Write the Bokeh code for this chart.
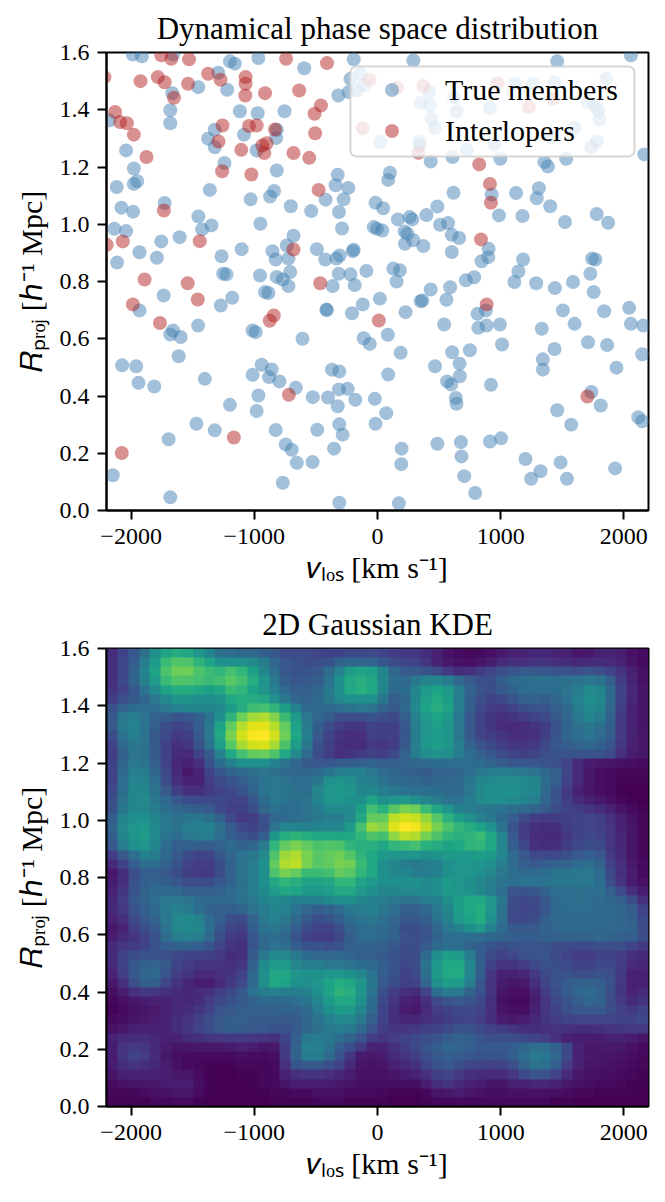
from bokeh.plotting import figure
from bokeh.layouts import column
from bokeh.models import Range1d, FixedTicker, Legend, LegendItem, BoxAnnotation
from bokeh.palettes import Viridis256
from bokeh.embed import file_html
from bokeh.resources import INLINE
import numpy as np

SERIF = "Liberation Serif"

member_v = [-1986,-1913,-1660,-1198,-1158,-967,-193,-595,-1293,-1456,-1220,-1666,-1682,-1682,-1117,-973,-755,-318,-2176,-1321,-1375,-1321,-1084,-818,-823,-981,-2041,-1242,-1978,-1978,-1951,-2117,-818,-323,-340,-237,-1361,-840,-872,-1030,-421,-275,-704,-538,-313,-1728,-2079,-1984,-1454,-1348,-1424,-951,-2136,-2041,-288,-1606,-1755,-682,-736,-1932,-1791,-1103,-853,-826,-723,-492,-424,-334,-307,-201,-193,-1266,-2114,-709,-1253,-1226,-954,-818,-315,-220,-90,
    -139,-220,-234,-166,-112,24,418,351,427,622,641,440,465,342,342,725,913,948,1117,1261,1437,1858,1709,1763,1791,1804,1600,1736,1782,1410,
    291,1459,2057,432,609,997,1356,1383,1532,2166,101,87,617,1125,1310,1293,1402,927,986,1177,1522,1780,1872,-16,46,486,397,166,261,283,-30,-3,38,508,573,220,242,291,223,372,603,663,603,902,899,845,1182,1144,1742,1769,1728,128,182,
    -1736,-1932,-1272,-1179,-1456,-1660,-1682,-1598,-1614,-2073,-1959,-1940,-1812,-1402,-1198,-1470,-1321,-1696,-2149,-1682,-1014,-989,-913,-886,-769,-723,-364,-185,-416,-410,-207,-120,-609,-112,-63,-940,-859,-1014,-880,-796,-663,-967,-981,-370,-310,-525,-402,-313,-242,-180,-323,-826,-489,-310,-283,-745,-696,-655,-527,-353,-769,-310,
    155,19,228,351,364,432,590,560,717,785,1111,1288,1440,1587,1755,84,188,87,541,812,880,818,886,994,1011,1505,1600,1334,1840,2043,2057,2157,1709,1864,2149,1437,1342,1342,1940,750,606,467,666,668,565,598,921,636,641,-22,71,-16,1736,1812,1459,1573,2117,2149,196,193,486,677,682,913,1003,704,793,174,1201,1323,1247,1486,1538,1929]
member_r = [1.593,1.587,1.593,1.569,1.561,1.581,1.576,1.545,1.529,1.479,1.470,1.458,1.398,1.353,1.395,1.388,1.395,1.450,1.363,1.330,1.299,1.269,1.313,1.330,1.301,1.258,1.258,1.214,1.195,1.141,1.150,1.130,1.188,1.173,1.136,1.127,1.120,1.116,1.097,1.087,1.086,1.087,1.063,1.046,1.043,1.074,1.058,1.044,1.027,0.996,0.982,1.002,0.984,0.976,0.985,0.955,0.940,0.960,0.926,0.902,0.883,0.913,0.906,0.877,0.880,0.913,0.877,0.880,0.891,0.906,0.911,0.888,0.866,0.833,0.827,0.825,0.821,0.816,0.827,0.825,0.837,
    1.526,1.508,1.462,1.467,1.485,1.287,1.462,1.424,1.415,1.444,1.394,1.368,1.336,1.287,1.275,1.260,1.406,1.281,1.491,1.491,1.496,1.508,1.427,1.415,1.398,1.366,1.337,1.269,1.289,1.304,
    1.572,1.569,1.590,1.219,1.235,1.229,1.217,1.202,1.229,1.244,1.180,1.155,1.110,1.109,1.126,1.091,1.063,1.104,1.031,1.029,1.008,1.036,1.005,1.075,1.056,1.062,1.032,1.017,1.025,1.017,0.990,0.984,0.978,0.998,1.004,0.975,0.967,0.944,0.932,0.924,0.963,0.952,0.903,0.914,0.885,0.871,0.877,0.835,0.880,0.877,0.827,0.845,0.839,
    0.751,0.699,0.716,0.743,0.646,0.629,0.615,0.606,0.539,0.507,0.504,0.446,0.433,0.460,0.369,0.303,0.280,0.249,0.123,0.046,0.629,0.623,0.763,0.760,0.807,0.784,0.784,0.788,0.701,0.701,0.689,0.720,0.600,0.602,0.582,0.509,0.493,0.474,0.466,0.451,0.429,0.402,0.348,0.492,0.486,0.396,0.395,0.423,0.425,0.387,0.364,0.281,0.282,0.301,0.265,0.231,0.212,0.167,0.169,0.216,0.097,0.027,
    0.800,0.740,0.693,0.731,0.734,0.772,0.780,0.736,0.804,0.815,0.798,0.794,0.777,0.798,0.763,0.614,0.551,0.475,0.650,0.687,0.699,0.638,0.646,0.650,0.580,0.699,0.652,0.635,0.696,0.708,0.652,0.646,0.588,0.578,0.546,0.564,0.528,0.492,0.499,0.560,0.553,0.504,0.513,0.469,0.451,0.440,0.439,0.393,0.373,0.390,0.340,0.303,0.414,0.367,0.350,0.300,0.326,0.312,0.216,0.162,0.233,0.239,0.189,0.241,0.252,0.120,0.061,0.025,0.180,0.137,0.111,0.168,0.111,0.147]

interloper_v = [-1755,-1674,-1530,-742,-410,-2217,-1924,-1783,-1728,-1538,-1375,-1274,-1071,-1071,-1073,-913,-636,-1652,-459,-511,-2130,-2090,-2035,-1978,-1258,-1043,-981,-832,-506,-1291,-900,-935,-919,-1106,-682,-554,-1875,-1261,-1024,-478,-1734,-1443,-2068,-2198,-682,
    -62,-120,160,372,975,1228,1424,332,826,913,921,840,
    -1891,-1541,-1986,-1459,-1766,-842,-875,-465,11,-720,-1166,-2076,886,1704]
interloper_r = [1.590,1.578,1.576,1.578,1.563,1.514,1.500,1.514,1.496,1.491,1.526,1.505,1.514,1.491,1.450,1.458,1.467,1.442,1.415,1.386,1.392,1.357,1.353,1.313,1.345,1.343,1.345,1.331,1.318,1.289,1.283,1.275,1.249,1.260,1.249,1.232,1.235,1.185,1.174,1.120,1.048,0.941,0.940,0.928,0.912,
    1.505,1.335,1.477,1.483,1.493,1.409,1.438,1.250,1.209,1.141,1.075,0.947,
    0.807,0.794,0.720,0.737,0.655,0.681,0.663,0.794,0.664,0.404,0.255,0.201,0.720,0.398]

v_ticks = [-2000, -1000, 0, 1000, 2000]
v_labels = ["\u22122000", "\u22121000", "0", "1000", "2000"]
r_ticks = [0.0, 0.2, 0.4, 0.6, 0.8, 1.0, 1.2, 1.4, 1.6]
r_labels = ["0.0", "0.2", "0.4", "0.6", "0.8", "1.0", "1.2", "1.4", "1.6"]
x_label = "\U0001d463\u2097\u2092\u209b [km s\u207b\u00b9]"
y_label = "\U0001d445\u209a\u1d63\u2092\u2c7c [\u210e\u207b\u00b9 Mpc]"

# KDE cells, top row first, 0-100 along the colormap
density_rows = [
[13,20,27,37,50,58,62,60,52,45, 37,35,33,33,30,28,23,23,23,21, 20,20,22,22,23, 20,18,17,16,13, 9,5,3,2,3, 4,7,9,10,11, 11,10,9,6,7, 10,10,8,5,3],
[14,22,30,42,55,68,73,72,65,58, 50,50,50,48,42,33,27,25,24,24, 25,32,33,33,32, 27,23,21,20,16, 10,7,5,4,6, 8,12,14,14,15, 15,14,13,11,12, 13,12,10,6,3],
[14,22,32,45,58,72,78,78,72,68, 66,70,66,57,46,36,28,26,26,28, 35,44,55,58,56, 45,33,29,28,26, 23,17,13,14,17, 21,24,26,28,28, 27,26,25,24,26, 24,20,15,9,5],
[14,22,32,44,55,68,73,72,70,68, 70,74,70,62,52,40,30,27,28,30, 38,50,60,63,60, 46,36,34,40,45, 46,42,34,28,24, 24,30,34,36,37, 37,36,37,38,40, 38,30,18,10,5],
[15,20,27,38,48,58,62,62,60,56, 60,68,66,58,52,44,35,30,30,33, 40,50,60,63,60, 46,34,36,46,54, 58,54,42,32,26, 24,28,32,35,36, 35,36,38,42,48, 45,34,20,11,6],
[18,24,28,33,40,48,52,52,50,50, 52,60,62,62,60,50,40,33,32,35, 40,48,50,50,50, 40,30,33,46,56, 61,56,42,30,24, 20,22,27,31,32, 30,33,38,44,50, 47,34,20,11,6],
[25,32,36,36,36,40,44,46,46,46, 48,55,62,69,70,65,56,44,34,34, 34,36,38,40,38, 32,28,34,48,58, 63,58,42,30,22, 18,17,20,24,26, 26,30,34,42,48, 45,33,19,10,6],
[28,40,43,38,32,30,26,27,31,38, 50,65,78,86,88,81,68,54,40,33, 29,24,24,24,26, 24,22,30,44,54, 58,54,40,27,20, 16,14,15,18,20, 22,28,33,40,46, 42,31,17,9,6],
[28,42,45,38,30,24,20,22,30,40, 58,76,89,95,96,89,76,58,42,30, 24,18,16,16,20, 19,19,27,42,52, 56,52,40,27,20, 16,12,12,13,15, 18,25,32,37,40, 37,30,17,10,6],
[24,38,43,38,28,22,17,19,28,40, 60,80,93,99,100,93,78,60,43,28, 20,15,13,14,19, 18,19,27,42,52, 55,52,40,28,21, 18,15,13,13,14, 19,26,33,36,38, 35,29,17,10,7],
[20,34,40,38,29,20,14,16,26,38, 56,74,87,93,94,87,72,55,40,25, 19,14,13,13,17, 16,18,28,43,53, 56,53,42,32,26, 22,18,16,16,17, 22,27,30,32,33, 31,26,16,9,7],
[18,31,38,37,29,20,13,12,20,28, 44,60,70,76,77,72,60,47,35,24, 18,14,15,17,19, 18,22,32,42,49, 51,49,42,36,31, 27,23,20,19,21, 24,25,26,26,26, 25,22,14,8,7],
[20,33,40,38,30,20,11,9,14,26, 36,44,50,51,50,45,38,33,29,27, 27,29,30,31,32, 30,30,32,33,35, 36,36,36,36,35, 32,29,27,27,27, 26,24,20,12,8, 7,6,5,4,3],
[20,35,43,42,33,22,12,7,10,20, 27,32,35,37,38,37,35,33,33,35, 39,42,44,44,40, 35,33,31,30,29, 32,32,33,36,40, 42,43,42,40,38, 33,30,21,12,7, 4,3,2,2,2],
[20,36,45,44,36,24,14,9,10,18, 23,26,29,34,38,40,38,36,36,40, 50,53,50,44,42, 38,35,34,33,32, 33,33,35,40,46, 48,49,49,48,46, 36,30,20,12,7, 4,3,1,1,1],
[22,37,46,46,38,28,18,14,14,17, 20,22,26,32,38,40,39,37,37,46, 52,54,52,46,46, 42,40,38,37,36, 36,34,34,40,47, 50,50,50,48,46, 34,26,17,10,6, 4,3,1,0,0],
[24,38,46,47,40,34,27,24,22,22, 22,20,20,27,35,40,38,37,38,45, 52,52,50,50,58, 50,52,54,50,46, 42,38,38,42,47, 49,49,48,45,42, 33,25,18,13,9, 7,5,2,1,0],
[25,40,46,46,42,36,33,32,30,28, 22,19,19,24,33,37,36,36,38,42, 47,47,48,56,70, 64,74,80,78,68, 60,52,44,42,40, 39,38,36,34,32, 28,24,20,18,15, 13,10,6,3,1],
[30,45,50,50,46,40,37,39,40,37, 31,22,17,18,25,33,34,36,38,40, 42,42,48,60,76, 76,90,93,92,84, 74,64,56,50,44, 40,34,30,23,18, 17,18,19,20,21, 19,14,9,5,2],
[32,47,52,54,48,40,38,42,44,44, 37,29,22,20,24,38,45,45,44,45, 46,46,54,70,85, 82,95,100,98,90, 80,72,66,62,58, 50,38,26,18,14, 13,14,18,20,21, 19,15,10,6,2],
[30,45,52,55,48,38,36,40,42,42, 36,30,26,24,30,53,62,65,62,60, 60,59,60,66,72, 70,83,90,88,79, 72,66,64,65,68, 60,46,28,18,13, 12,12,16,20,22, 20,15,11,6,2],
[27,42,50,52,46,36,30,31,30,29, 32,35,32,33,42,66,76,80,76,72, 73,72,66,63,63, 60,66,68,70,64, 62,58,60,65,66, 60,46,30,22,14, 13,14,18,22,24, 22,15,11,6,2],
[18,28,36,44,42,34,28,24,20,21, 28,33,38,40,48,72,85,88,80,74, 76,78,73,65,60, 54,52,52,52,50, 52,54,54,54,56, 54,46,35,28,22, 22,22,24,28,30, 27,17,12,6,2],
[12,20,30,36,36,32,26,20,18,18, 24,32,38,42,50,76,88,90,80,74, 76,80,78,68,60, 50,46,42,40,42, 44,50,52,52,52, 50,42,35,30,28, 30,31,32,35,36, 32,20,14,7,3],
[7,13,24,30,30,28,24,19,17,17, 24,31,38,42,50,72,80,76,68,68, 70,76,74,66,60, 50,46,46,42,42, 44,50,52,52,50, 46,40,36,35,35, 36,38,39,40,40, 35,22,14,8,3],
[8,14,25,30,32,30,27,24,24,24, 27,31,37,42,50,60,66,63,58,58, 60,66,66,58,54, 50,50,50,50,48, 50,54,52,50,46, 42,38,36,38,38, 38,40,40,40,40, 36,24,15,8,5],
[10,16,26,32,35,35,33,30,30,30, 32,35,38,42,48,55,60,58,54,54, 56,60,60,54,50, 46,46,48,48,48, 50,54,52,50,46, 42,36,26,26,28, 32,36,36,37,36, 36,30,22,14,8],
[11,18,27,32,36,40,40,38,35,35, 34,35,37,40,45,48,46,43,44,44, 48,50,50,46,44, 42,40,38,38,42, 44,50,56,60,60, 52,40,24,22,23, 28,35,36,37,36, 35,33,30,24,14],
[11,17,25,30,35,41,44,42,36,32, 30,30,32,38,42,46,44,38,33,30, 32,35,40,42,44, 40,36,30,30,33, 40,46,56,60,62, 52,38,23,21,22, 27,34,36,36,36, 35,34,33,30,20],
[9,14,22,28,32,40,47,47,44,35, 30,24,23,32,40,44,40,34,28,24, 26,30,36,38,40, 37,33,28,28,30, 38,44,54,58,62, 50,37,22,22,24, 30,34,35,35,35, 35,34,33,31,22],
[7,10,19,24,28,38,46,48,46,36, 27,21,19,30,38,40,36,30,24,20, 20,24,32,36,37, 35,32,24,24,26, 33,40,44,50,54, 44,35,28,28,28, 32,33,34,34,34, 34,33,33,32,23],
[8,12,15,20,26,36,42,44,42,34, 24,17,16,27,34,36,34,26,20,18, 18,22,30,35,36, 34,31,25,24,26, 32,36,36,36,35, 34,32,30,30,30, 31,31,32,32,32, 33,32,31,30,24],
[12,16,18,20,25,30,31,32,30,26, 20,15,14,26,34,38,36,30,26,26, 24,26,30,32,32, 30,28,24,24,28, 34,36,36,32,30, 26,24,25,26,26, 26,24,23,22,22, 24,24,24,20,17],
[13,20,24,25,25,24,22,21,20,19, 17,13,14,29,40,48,46,40,35,33, 33,34,32,30,30, 28,25,23,24,34, 50,56,54,42,30, 23,20,22,25,26, 26,23,20,18,18, 20,20,18,14,12],
[12,20,27,31,32,28,21,18,15,15, 15,14,16,31,48,55,55,46,42,42, 40,40,38,36,34, 30,26,22,24,38, 53,60,60,46,31, 20,15,15,18,22, 25,24,22,20,20, 22,22,18,12,11],
[10,18,28,33,34,26,18,15,12,12, 14,15,20,34,50,60,60,52,50,50, 52,52,50,46,38, 30,25,20,22,36, 54,61,61,46,30, 16,9,9,11,17, 23,25,25,24,24, 25,24,17,9,9],
[7,14,24,31,30,21,15,11,8,8, 12,17,22,35,50,60,58,50,50,52, 58,62,60,52,40, 28,24,19,20,33, 50,56,54,42,27, 15,8,6,7,14, 21,25,29,31,32, 30,25,16,9,9],
[4,8,14,17,16,14,12,11,12,14, 18,22,28,38,42,44,42,42,44,50, 58,65,63,52,38, 24,18,14,12,20, 36,42,40,32,25, 15,6,4,4,10, 18,24,29,33,35, 32,24,16,10,12],
[2,4,7,8,9,10,11,11,13,18, 22,25,28,32,34,34,34,37,39,46, 54,60,60,50,36, 22,15,9,8,14, 22,26,28,26,22, 14,5,3,3,8, 16,22,25,30,33, 31,24,17,12,15],
[1,3,5,6,7,9,11,13,16,20, 26,28,30,30,30,32,32,32,34,42, 50,55,54,45,34, 20,14,8,7,12, 18,20,22,22,20, 14,6,4,4,9, 16,20,24,27,28, 28,24,19,17,20],
[3,4,6,7,8,10,13,15,19,24, 28,30,30,29,29,29,28,29,33,38, 44,48,47,40,30, 20,14,11,11,14, 16,18,20,21,18, 13,8,7,8,11, 15,18,20,21,21, 21,21,20,20,22],
[5,7,9,9,9,10,13,16,20,24, 28,30,29,28,27,25,25,28,33,37, 40,42,40,34,26, 18,16,16,17,19, 20,22,26,26,22, 20,18,16,14,13, 14,15,14,13,13, 14,15,16,17,16],
[9,12,13,13,11,9,10,13,14,15, 16,17,17,16,15,14,20,30,40,42, 40,36,32,26,18, 16,18,20,22,24, 26,30,32,30,26, 24,24,24,22,20, 18,14,9,8,8, 8,9,9,8,6],
[8,15,17,16,12,8,6,6,7,7, 7,8,9,8,6,7,18,32,44,44, 38,30,24,17,10, 10,14,18,22,26, 30,33,32,30,27, 28,28,30,33,36, 36,31,22,10,7, 7,7,7,5,3],
[8,16,20,18,12,7,4,3,3,3, 3,3,4,3,3,4,17,32,42,42, 35,25,16,8,7, 8,12,15,19,24, 28,30,29,27,26, 26,26,30,36,40, 39,33,22,9,7, 6,6,5,4,2],
[8,13,15,14,11,8,5,3,2,1, 1,1,2,2,2,3,14,26,28,28, 24,20,12,6,5, 6,9,11,14,20, 25,27,24,21,20, 19,20,24,32,38, 37,30,18,9,6, 6,5,4,3,2],
[6,9,10,10,9,8,7,6,3,1, 0,0,1,1,2,3,10,14,15,15, 14,11,8,5,5, 5,6,8,10,14, 19,21,17,14,13, 12,12,16,22,26, 25,20,12,7,5, 4,4,3,2,1],
[3,5,6,6,7,8,8,8,4,1, 0,0,0,1,2,3,6,8,8,8, 8,7,6,4,4, 4,4,4,4,8, 13,15,12,9,8, 6,6,9,10,11, 11,10,7,5,4, 3,3,2,1,1],
[2,2,2,3,4,5,6,6,3,1, 0,0,0,0,1,2,2,3,3,4, 4,4,3,3,3, 2,1,1,1,2, 6,7,8,6,5, 4,4,5,5,5, 5,4,3,2,2, 1,1,1,1,0],
[1,1,1,1,2,2,3,3,1,0, 0,0,0,0,0,1,1,1,1,2, 2,2,1,1,1, 1,0,0,0,1, 2,2,3,2,2, 2,2,2,2,2, 2,1,1,0,0, 0,0,0,0,0],
]


def base_figure(title, height, top):
    p = figure(height=height, width=664, frame_width=542, frame_height=458,
               x_range=Range1d(-2200, 2200), y_range=Range1d(0, 1.6),
               min_border_left=106, min_border_right=16, min_border_top=top, min_border_bottom=88,
               output_backend="svg", toolbar_location=None)
    p.title.text = title
    p.title.align = "center"
    p.title.text_font = SERIF
    p.title.text_font_size = "31px"
    p.title.text_font_style = "normal"
    p.title.text_color = "black"
    p.title.standoff = 13
    p.grid.visible = False
    p.outline_line_color = "black"
    p.outline_line_width = 2
    for ax, ticks, labels, label, standoff, label_standoff in [(p.xaxis[0], v_ticks, v_labels, x_label, 9, 4),
                                                               (p.yaxis[0], r_ticks, r_labels, y_label, 8, 9)]:
        ax.ticker = FixedTicker(ticks=ticks)
        ax.major_label_overrides = dict(zip(ticks, labels))
        ax.major_label_text_font = SERIF
        ax.major_label_text_font_size = "24px"
        ax.major_label_text_color = "black"
        ax.major_label_standoff = standoff
        ax.major_tick_out = 9
        ax.major_tick_in = 0
        ax.major_tick_line_width = 2
        ax.major_tick_line_color = "black"
        ax.minor_tick_line_color = None
        ax.axis_line_width = 2
        ax.axis_line_color = "black"
        ax.axis_label = label
        ax.axis_label_text_font = SERIF
        ax.axis_label_text_font_size = "30px"
        ax.axis_label_text_font_style = "normal"
        ax.axis_label_text_color = "black"
        ax.axis_label_standoff = label_standoff
    return p


p1 = base_figure("Dynamical phase space distribution", 598, 52)
r_members = p1.scatter(member_v, member_r, size=14, color="steelblue", alpha=0.5, line_color=None)
r_inter = p1.scatter(interloper_v, interloper_r, size=14, color="firebrick", alpha=0.5, line_color=None)

box = BoxAnnotation(left=-220, right=2086, top=1.551, bottom=1.237, fill_color="white", fill_alpha=0.8,
                    line_color="#cccccc", line_alpha=0.8, line_width=2, border_radius=6)
p1.add_layout(box)
legend = Legend(items=[LegendItem(label="True members", renderers=[r_members]),
                       LegendItem(label="Interlopers", renderers=[r_inter])],
                location=(258, 352), margin=0, padding=10, spacing=6, glyph_width=35, glyph_height=35,
                label_height=35, label_standoff=36, label_text_font=SERIF, label_text_font_size="30px",
                label_text_color="black", background_fill_alpha=0, border_line_alpha=0)
p1.add_layout(legend, "center")

p2 = base_figure("2D Gaussian KDE", 596, 48)
density = np.flipud(np.array(density_rows, dtype=float))
p2.image(image=[density], x=-2200, y=0, dw=4400, dh=1.6, palette=Viridis256, level="image")

open("out.html", "w").write(file_html(column(p1, p2), INLINE))
